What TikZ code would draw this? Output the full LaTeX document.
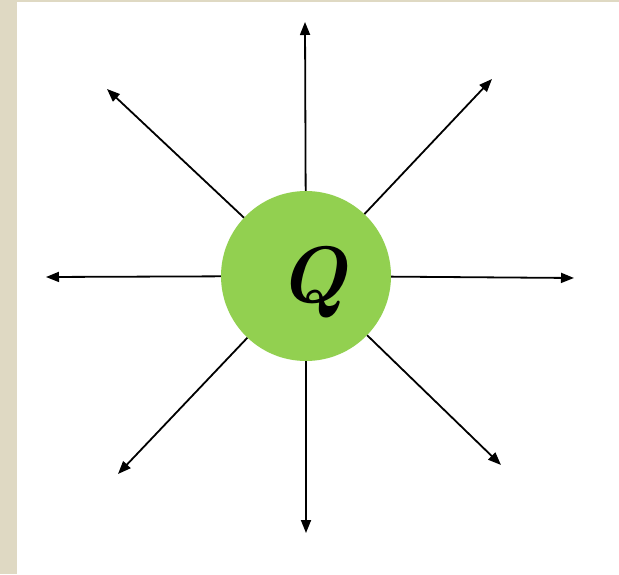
\documentclass[tikz,border=0pt]{standalone}
\usepackage{fontspec}
\usetikzlibrary{arrows.meta, positioning}
\definecolor{chargegreen}{HTML}{92D050}
\definecolor{slidebeige}{HTML}{DFD9C3}
\newcommand{\chargesym}{\fontsize{80}{80}\selectfont\bfseries\itshape Q}
\tikzstyle{charge} = [circle, fill=chargegreen, minimum size=170pt, inner sep=0pt]
\tikzstyle{ray} = [line width=1.8pt, -{Triangle[length=13pt, width=10pt]}, color=black]

\begin{document}
\begin{tikzpicture}[x=1pt, y=1pt]
    % Background
    \fill[slidebeige] (0,0) rectangle (619,574);
    \fill[white] (17,0) rectangle (619,572);
    \useasboundingbox (0,0) rectangle (619,574);

    % Charge
    \node[charge] (q) at (306,298) {};
    \node (qlabel) at (313,292) {\chargesym};

    % Ray ends
    \coordinate (n) at (305,552);
    \coordinate (s) at (306,41);
    \coordinate (w) at (46,297);
    \coordinate (e) at (574,296);
    \coordinate (nw) at (107,485);
    \coordinate (ne) at (492,495);
    \coordinate (sw) at (118,100);
    \coordinate (se) at (501,109);

    % Field lines
    \foreach \dir in {n, s, w, e, nw, ne, sw, se}
        \draw[ray] (q) -- (\dir);
\end{tikzpicture}
\end{document}
